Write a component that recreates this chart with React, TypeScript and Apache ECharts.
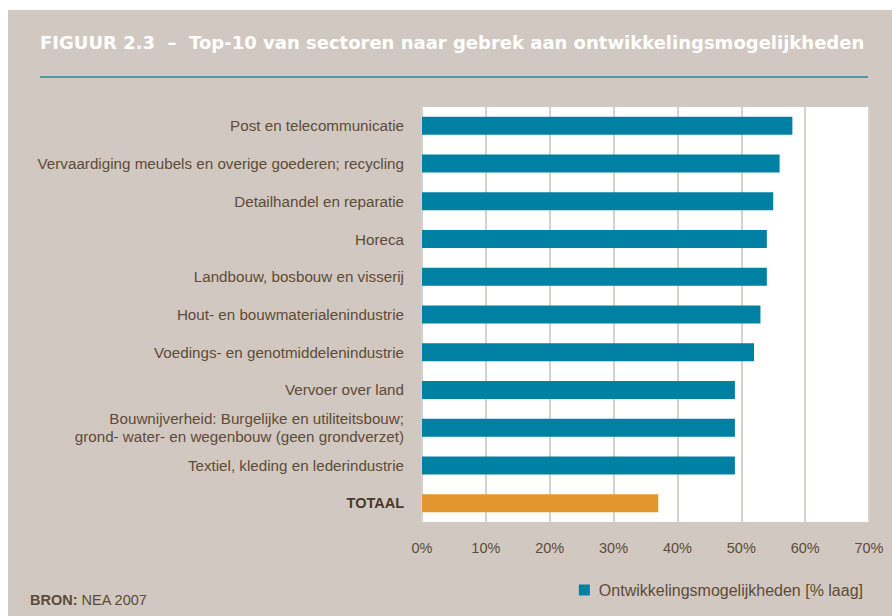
import React, { useEffect, useRef } from "react";
import * as echarts from "echarts";

const categories = [
  "Post en telecommunicatie",
  "Vervaardiging meubels en overige goederen; recycling",
  "Detailhandel en reparatie",
  "Horeca",
  "Landbouw, bosbouw en visserij",
  "Hout- en bouwmaterialenindustrie",
  "Voedings- en genotmiddelenindustrie",
  "Vervoer over land",
  "Bouwnijverheid: Burgelijke en utiliteitsbouw;\ngrond- water- en wegenbouw (geen grondverzet)",
  "Textiel, kleding en lederindustrie",
  "TOTAAL",
];
const values = [58, 56, 55, 54, 54, 53, 52, 49, 49, 49, 37];
const seriesName = "Ontwikkelingsmogelijkheden [% laag]";
const titleText = "FIGUUR 2.3  –  Top-10 van sectoren naar gebrek aan ontwikkelingsmogelijkheden";

const TEAL = "#0081a3";
const ORANGE = "#e2962d";
const BG = "#d1c8c1";
const TXT = "#5e4b37";
const FF = "Liberation Sans, Arial, sans-serif";

export default function App() {
  const ref = useRef<HTMLDivElement>(null);
  useEffect(() => {
    if (!ref.current) return;
    const chart = echarts.init(ref.current, null, { renderer: "svg" });
    chart.setOption({
      animation: false,
      backgroundColor: "#ffffff",
      textStyle: { fontFamily: FF },
      graphic: [
        { type: "rect", z: -10, shape: { x: 8, y: 10, width: 884, height: 606 }, style: { fill: BG } },
        {
          type: "text",
          x: 40,
          y: 42,
          style: {
            text: titleText,
            fill: "#ffffff",
            font: "bold 18px 'DejaVu Sans', Verdana, sans-serif",
            verticalAlign: "middle",
          },
        },
        { type: "line", shape: { x1: 40, y1: 77, x2: 868, y2: 77 }, style: { stroke: "#4d9aa8", lineWidth: 2 } },
        {
          type: "text",
          x: 30,
          y: 600,
          style: {
            text: "{b|BRON:} NEA 2007",
            verticalAlign: "middle",
            rich: {
              b: { fontWeight: "bold", fontSize: 14.5, fill: TXT, fontFamily: FF },
            },
            fill: TXT,
            font: "14.5px 'Liberation Sans', Arial, sans-serif",
          },
        },
      ],
      legend: {
        right: 24,
        top: 577,
        icon: "rect",
        itemWidth: 11,
        itemHeight: 11,
        itemGap: 10,
        textStyle: { color: TXT, fontSize: 16, fontFamily: FF, padding: [0, 0, 0, 4] },
        data: [seriesName],
      },
      grid: {
        left: 422,
        top: 107,
        width: 447,
        height: 415,
        show: true,
        backgroundColor: "#ffffff",
        borderWidth: 0,
        containLabel: false,
      },
      xAxis: {
        type: "value",
        min: 0,
        max: 70,
        interval: 10,
        axisLabel: {
          formatter: "{value}%",
          color: TXT,
          fontSize: 14.5,
          margin: 18,
        },
        axisLine: { show: false },
        axisTick: { show: false },
        splitLine: { show: true, lineStyle: { color: "#d8d0ca", width: 2 } },
      },
      yAxis: {
        type: "category",
        data: categories,
        inverse: true,
        axisLine: { show: false },
        axisTick: { show: false },
        axisLabel: {
          margin: 18,
          color: TXT,
          fontSize: 15.2,
          lineHeight: 18,
          formatter: (v: string) => (v === "TOTAAL" ? "{t|" + v + "}" : v),
          rich: { t: { fontWeight: "bold", fontSize: 14.5, color: "#4a3a2a" } },
        },
      },
      series: [
        {
          name: seriesName,
          type: "bar",
          barWidth: 18,
          itemStyle: { color: TEAL },
          data: values.map((v, i) => (categories[i] === "TOTAAL" ? { value: v, itemStyle: { color: ORANGE } } : v)),
        },
      ],
    });
    return () => chart.dispose();
  }, []);
  return <div ref={ref} style={{ position: "fixed", left: 0, top: 0, width: 892, height: 616 }} />;
}
